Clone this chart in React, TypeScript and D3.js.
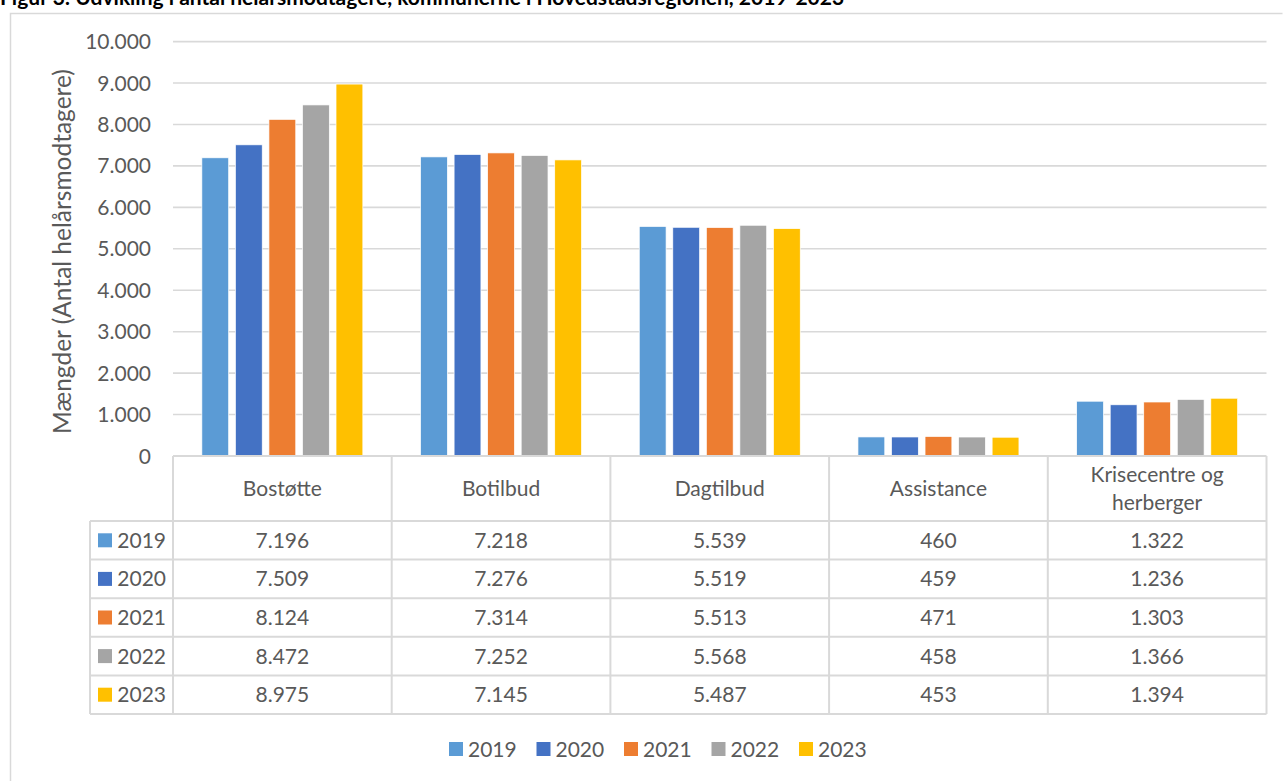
import React from "react";
import * as d3 from "d3";

const title = "Figur 3: Udvikling i antal helårsmodtagere, kommunerne i Hovedstadsregionen, 2019-2023";
const categories = ["Bostøtte", "Botilbud", "Dagtilbud", "Assistance", "Krisecentre og herberger"];
const categoryLines = [["Bostøtte"], ["Botilbud"], ["Dagtilbud"], ["Assistance"], ["Krisecentre og", "herberger"]];
const years = ["2019", "2020", "2021", "2022", "2023"];
const colors = ["#5B9BD5", "#4472C4", "#ED7D31", "#A5A5A5", "#FFC000"];
const values2019 = [7196, 7218, 5539, 460, 1322];
const values2020 = [7509, 7276, 5519, 459, 1236];
const values2021 = [8124, 7314, 5513, 471, 1303];
const values2022 = [8472, 7252, 5568, 458, 1366];
const values2023 = [8975, 7145, 5487, 453, 1394];
const series = [values2019, values2020, values2021, values2022, values2023];
const yTicks = [0, 1000, 2000, 3000, 4000, 5000, 6000, 7000, 8000, 9000, 10000];
const yTitle = "Mængder (Antal helårsmodtagere)";

const fmt = (v: number) => d3.format(",")(v).replace(/,/g, ".");

const FONT = "Lato, 'Open Sans', sans-serif";
const TXT = "#595959";
const GRID = "#d9d9d9";

export default function App() {
  const W = 1283, H = 781;
  const left = 173, right = 1266.5;
  const y = d3.scaleLinear().domain([0, 10000]).range([456, 41.6]);
  const x0 = d3.scaleBand<string>().domain(categories).range([left, right]).padding(0);
  const x1 = d3.scaleBand<string>().domain(years).range([25.5, x0.bandwidth() - 25.5]).paddingInner(0.2).paddingOuter(0.1);
  const headerTop = 456, headerBottom = 521, rowH = 38.6;
  const tableLeft = 90;
  const rowY = (i: number) => headerBottom + i * rowH;
  const tableBottom = rowY(years.length);

  return (
    <svg width={W} height={H} style={{ position: "absolute", left: 0, top: 0, background: "#fff" }} fontFamily={FONT}>
      <rect x={0} y={0} width={W} height={H} fill="#fff" />
      <text x={0} y={5} fontSize={21} fontWeight="bold" fill="#000">{title}</text>
      {/* frame */}
      <path d={`M10.5,${H + 5} V13.5 H${W - 0.5}`} fill="none" stroke={GRID} strokeWidth={1.5} />
      {/* gridlines */}
      {yTicks.map((t) => (
        <g key={t}>
          {t > 0 && <line x1={left} x2={right} y1={y(t)} y2={y(t)} stroke={GRID} strokeWidth={1.6} />}
          <text x={151} y={y(t)} dy="0.36em" textAnchor="end" fontSize={21} fill={TXT}>{fmt(t)}</text>
        </g>
      ))}
      <text transform={`translate(71,251.5) rotate(-90)`} textAnchor="middle" fontSize={24.5} fill={TXT}>{yTitle}</text>
      {/* bars */}
      {categories.map((c, ci) => (
        <g key={c} transform={`translate(${x0(c)},0)`}>
          {years.map((yr, si) => (
            <rect key={yr} x={x1(yr)} y={y(series[si][ci])} width={x1.bandwidth()} height={y(0) - y(series[si][ci])} fill={colors[si]} stroke="#fff" strokeWidth={0.7} />
          ))}
        </g>
      ))}
      {/* table lines */}
      <g stroke={GRID} strokeWidth={2} fill="none">
        <line x1={left} x2={right} y1={headerTop} y2={headerTop} />
        <line x1={tableLeft} x2={right} y1={headerBottom} y2={headerBottom} />
        {years.map((yr, i) => (
          <line key={yr} x1={tableLeft} x2={right} y1={rowY(i + 1)} y2={rowY(i + 1)} />
        ))}
        <line x1={tableLeft} x2={tableLeft} y1={headerBottom} y2={tableBottom} />
        {categories.map((c) => (
          <line key={c} x1={x0(c)} x2={x0(c)} y1={headerTop} y2={tableBottom} />
        ))}
        <line x1={right} x2={right} y1={headerTop} y2={tableBottom} />
      </g>
      {/* header */}
      {categories.map((c, ci) => {
        const lines = categoryLines[ci];
        const cx = (x0(c) as number) + x0.bandwidth() / 2;
        const cy = (headerTop + headerBottom) / 2;
        return (
          <text key={c} textAnchor="middle" fontSize={21} fill={TXT}>
            {lines.map((l, li) => (
              <tspan key={li} x={cx} y={cy + (li - (lines.length - 1) / 2) * 28} dy="0.36em">{l}</tspan>
            ))}
          </text>
        );
      })}
      {/* rows */}
      {years.map((yr, si) => {
        const cy = rowY(si) + rowH / 2;
        return (
          <g key={yr}>
            <rect x={98} y={cy - 7} width={14} height={14} fill={colors[si]} />
            <text x={166} y={cy} dy="0.36em" textAnchor="end" fontSize={21} fill={TXT}>{yr}</text>
            {categories.map((c, ci) => (
              <text key={c} x={(x0(c) as number) + x0.bandwidth() / 2} y={cy} dy="0.36em" textAnchor="middle" fontSize={21} fill={TXT}>{fmt(series[si][ci])}</text>
            ))}
          </g>
        );
      })}
      {/* legend */}
      {years.map((yr, si) => (
        <g key={yr} transform={`translate(${449 + si * 87.5},749)`}>
          <rect x={0} y={-7} width={14} height={14} fill={colors[si]} />
          <text x={19} y={0} dy="0.36em" fontSize={21} fill={TXT}>{yr}</text>
        </g>
      ))}
    </svg>
  );
}
